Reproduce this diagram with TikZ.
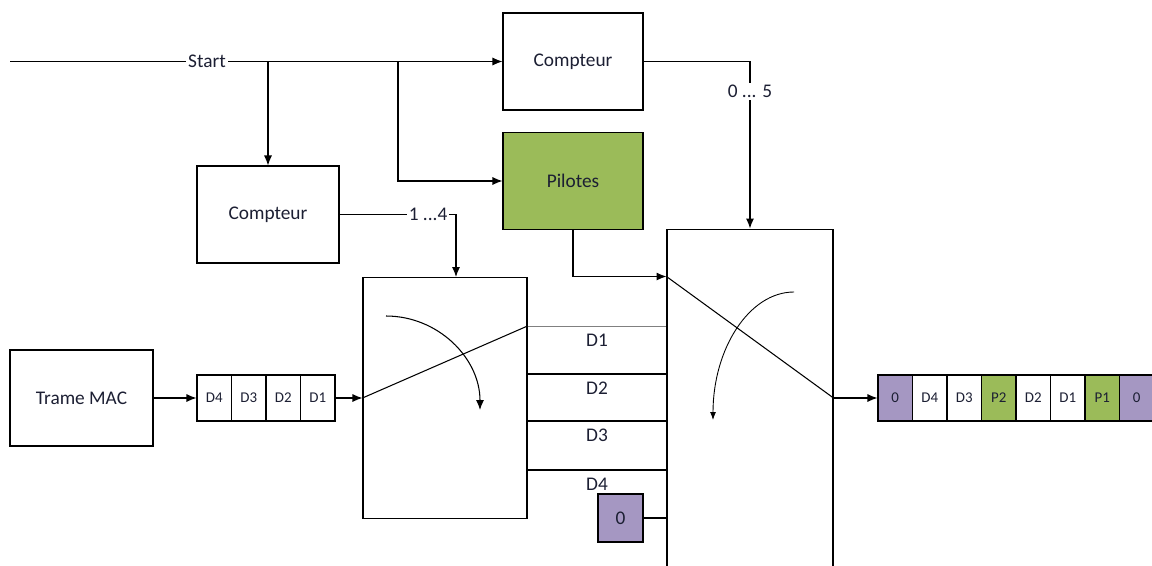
\documentclass[tikz,border=0pt]{standalone}
\usepackage{fontspec}
\setmainfont{Carlito}
\usetikzlibrary{arrows.meta, positioning, calc}
\definecolor{pilotgreen}{HTML}{9BBB59}
\definecolor{zeropurple}{HTML}{A597C2}
\definecolor{inktext}{HTML}{1C1F33}

\begin{document}
\begin{tikzpicture}[
  x=0.02cm, y=-0.02cm, line width=0.6pt,
  every node/.style={font=\fontsize{11}{13}\selectfont, text=inktext},
  block/.style={draw, minimum width=2.8cm, minimum height=1.94cm, inner sep=0pt},
  cell/.style={draw, minimum width=0.69cm, minimum height=0.92cm, inner sep=0pt,
               font=\fontsize{8.5}{10}\selectfont},
  arr/.style={-{Latex[length=2mm,width=1.6mm]}},
  tag/.style={fill=white, inner sep=1pt}
]
\path[use as bounding box, clip] (0,0) rectangle (1152,565);

% Counters and pilots
\node[block] (cptA) at (573,61.5) {Compteur};
\node[block, fill=pilotgreen] (pil) at (573,181) {Pilotes};
\node[block, minimum width=2.84cm] (cptB) at (268,214.5) {Compteur};
\node[block, minimum width=2.86cm, minimum height=1.92cm] (trame) at (81.5,398) {Trame MAC};

% Switches
\node[draw, minimum width=3.28cm, minimum height=4.82cm] (sw1) at (445,398) {};
\node[draw, minimum width=3.32cm, minimum height=7.42cm] (sw2) at (750,414.5) {};
\node[draw, fill=zeropurple, minimum width=0.9cm, minimum height=0.96cm] (zero) at (620.5,518) {0};

% Input frame
\foreach \lab [count=\i] in {D4,D3,D2,D1}
  \node[cell] (in\i) at (179.75+34.5*\i,398) {\lab};

% Output frame
\foreach \lab/\col [count=\i] in {0/zeropurple,D4/white,D3/white,P2/pilotgreen,
                                 D2/white,D1/white,P1/pilotgreen,0/zeropurple}
  \node[cell, fill=\col] (out\i) at (860.75+34.5*\i,398) {\lab};

% Start and control lines
\coordinate (src) at (10,61.5);
\coordinate (brA) at (268,61.5);
\coordinate (brB) at (398,61.5);
\draw[arr] (src) -- (cptA.west) node[tag, pos=0.4] {Start};
\draw[arr] (brA) -- (cptB.north);
\draw[arr] (brB) |- (pil.west);
\draw[arr] (cptA.east) -| (sw2.north) node[tag, pos=0.59] {0 ... 5};
\draw[arr] (cptB.east) -| ($(sw1.north)+(11,0)$) node[tag, pos=0.38] {1 ...4};
\draw[arr] (pil.south) |- ($(sw2.north west)+(0,48)$);

% Data path
\draw[arr] (trame.east) -- (in1.west);
\draw[arr] (in4.east) -- (sw1.west);
\draw (sw1.west) -- ($(sw1.north east)+(0,49)$);
\draw[arr] (386,316) .. controls (438,316) and (480,358) .. (480,410);
\draw[gray, line width=0.4pt] (sw1.east |- 0,326) -- (sw2.west |- 0,326)
  node[midway, yshift=-0.28cm] {D1};
\foreach \y/\lab in {374/D2,421/D3,470/D4}
  \draw (sw1.east |- 0,\y) -- (sw2.west |- 0,\y) node[midway, yshift=-0.28cm] {\lab};
\draw (zero.east) -- (sw2.west |- zero.east);
\draw ($(sw2.north west)+(0,48)$) -- (sw2.east |- out1);
\draw[line width=0.5pt, -{Latex[length=1.6mm,width=1.2mm]}]
  (794,292) .. controls (749,292) and (713,349) .. (713,420);
\draw[arr] (sw2.east |- out1) -- (out1.west);
\end{tikzpicture}
\end{document}
